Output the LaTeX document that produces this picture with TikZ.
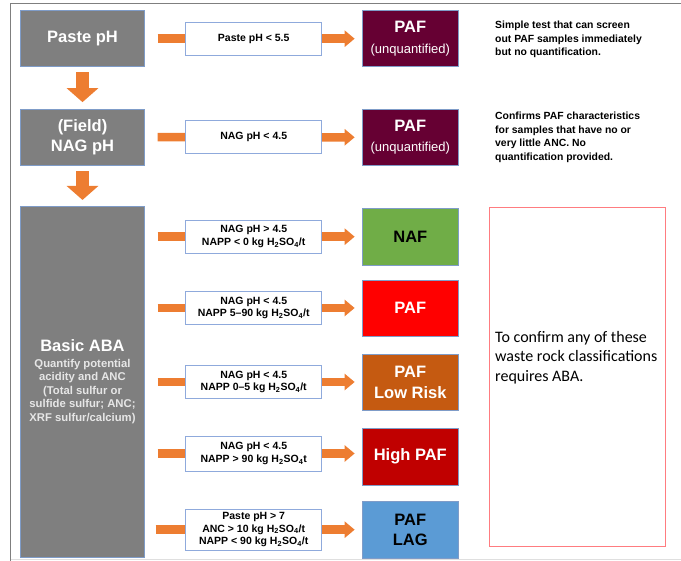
\documentclass[tikz,border=0pt]{standalone}
\usepackage{fontspec}
\setmainfont{Liberation Sans}
\newfontfamily\calibrifont{Carlito}
\usetikzlibrary{arrows.meta,backgrounds}

\definecolor{boxgray}{HTML}{7F7F7F}
\definecolor{edgeblue}{HTML}{7F9CC8}
\definecolor{condedge}{HTML}{8FAADC}
\definecolor{arroworange}{HTML}{ED7D31}
\definecolor{pafmaroon}{HTML}{660033}
\definecolor{nafgreen}{HTML}{70AD47}
\definecolor{pafred}{HTML}{FF0000}
\definecolor{lowrisk}{HTML}{C55A11}
\definecolor{highpaf}{HTML}{C00000}
\definecolor{lagblue}{HTML}{5B9BD5}
\definecolor{reqred}{HTML}{FF7C80}
\definecolor{subtext}{HTML}{E6E6E6}

\tikzset{
  testbox/.style={rectangle, fill=boxgray, draw=edgeblue, line width=0.6pt,
    minimum width=123.5pt, text=white, align=center, inner sep=0pt,
    font=\fontsize{16.5}{19.5}\selectfont\bfseries},
  condbox/.style={rectangle, fill=white, draw=condedge, line width=0.8pt,
    minimum width=136pt, minimum height=33pt, align=center, inner sep=0pt,
    font=\fontsize{10.5}{12.8}\selectfont\bfseries},
  classbox/.style={rectangle, draw=edgeblue, line width=0.6pt,
    minimum width=95.3pt, minimum height=56.7pt, text=white, align=center,
    inner sep=0pt, font=\fontsize{16.5}{20.5}\selectfont\bfseries},
  notetext/.style={anchor=west, align=left, inner sep=0pt,
    font=\fontsize{10.4}{13.5}\selectfont\bfseries},
  flow/.style={draw=arroworange, line width=8.5pt,
    -{Triangle[width=16pt,length=10pt]}, shorten <=13pt, shorten >=7.7pt},
  downflow/.style={draw=arroworange, line width=13pt,
    -{Triangle[width=31pt,length=14pt]}, shorten <=5.5pt, shorten >=6.5pt},
  frameline/.style={draw=boxgray, line width=1.2pt},
}

\newcommand{\hso}{H\textsubscript{2}SO\textsubscript{4}}

\begin{document}
\begin{tikzpicture}[x=1pt,y=-1pt]
	\useasboundingbox (0,0) rectangle (681,561);
	\draw[frameline] (10.5,561) -- (10.5,3.5) -- (681,3.5);
	\draw[gray!25, line width=0.8pt] (11,559.8) -- (681,559.8);

	\node[testbox, minimum height=56pt] (paste) at (82.5,38.7) {Paste pH};
	\node[testbox, minimum height=56.5pt] (nag) at (82.5,137.2) {(Field)\\NAG pH};
	\node[testbox, minimum height=350.3pt, font=\fontsize{11.3}{13.5}\selectfont\bfseries, text=subtext] (aba) at (82.5,381.9)
		{{\fontsize{16.5}{19.5}\selectfont\color{white}Basic ABA}\\[2pt]Quantify potential\\acidity and ANC\\(Total sulfur or\\sulfide sulfur; ANC;\\XRF sulfur/calcium)};

	\node[condbox] (c1) at (253.7,38.7) {Paste pH < 5.5};
	\node[condbox] (c2) at (253.7,137.3) {NAG pH < 4.5};
	\node[condbox] (c3) at (253.7,236.7) {NAG pH > 4.5\\NAPP < 0 kg \hso/t};
	\node[condbox] (c4) at (253.7,308) {NAG pH < 4.5\\NAPP 5--90 kg \hso/t};
	\node[condbox] (c5) at (253.7,382) {NAG pH < 4.5\\NAPP 0--5 kg \hso/t};
	\node[condbox, minimum height=35pt] (c6) at (253.7,453.5) {NAG pH < 4.5\\NAPP > 90 kg \hso t};
	\node[condbox, minimum height=41pt] (c7) at (253.7,529.7) {Paste pH > 7\\ANC > 10 kg \hso/t\\NAPP < 90 kg \hso/t};

	\node[classbox, fill=pafmaroon, minimum height=56pt] (r1) at (410.3,38.7) {PAF\\{\fontsize{13}{16}\selectfont\mdseries(unquantified)}};
	\node[classbox, fill=pafmaroon] (r2) at (410.3,137.3) {PAF\\{\fontsize{13}{16}\selectfont\mdseries(unquantified)}};
	\node[classbox, fill=nafgreen, text=black] (r3) at (410.3,236.7) {NAF};
	\node[classbox, fill=pafred] (r4) at (410.3,308.3) {PAF};
	\node[classbox, fill=lowrisk] (r5) at (410.3,382.3) {PAF\\Low Risk};
	\node[classbox, fill=highpaf] (r6) at (410.3,456.7) {High PAF};
	\node[classbox, fill=lagblue, text=black] (r7) at (410.3,529.7) {PAF\\LAG};

	\node[notetext] (n1) at (495,39.5) {Simple test that can screen\\out PAF samples immediately\\but no quantification.};
	\node[notetext] (n2) at (495,137.5) {Confirms PAF characteristics\\for samples that have no or\\very little ANC. No\\quantification provided.};

	\draw[reqred, line width=1pt] (489,207.3) rectangle (665.3,546.7);
	\node[anchor=west, align=left, inner sep=0pt, font=\calibrifont\fontsize{16}{19.5}\selectfont] (req) at (495,357.5)
		{To confirm any of these\\waste rock classifications\\requires ABA.};

	\begin{scope}[on background layer]
		\draw[downflow] (paste.south) -- (nag.north);
		\draw[downflow] (nag.south) -- (aba.north);
		\draw[flow] (paste.east) -- (r1.west);
		\draw[flow] (nag.east) -- (r2.west);
		\draw[flow] (aba.east |- c3) -- (r3.west |- c3);
		\draw[flow] (aba.east |- c4) -- (r4.west |- c4);
		\draw[flow] (aba.east |- c5) -- (r5.west |- c5);
		\draw[flow] (aba.east |- c6) -- (r6.west |- c6);
		\draw[flow, shorten <=11pt] (aba.east |- c7) -- (r7.west |- c7);
	\end{scope}
\end{tikzpicture}
\end{document}
